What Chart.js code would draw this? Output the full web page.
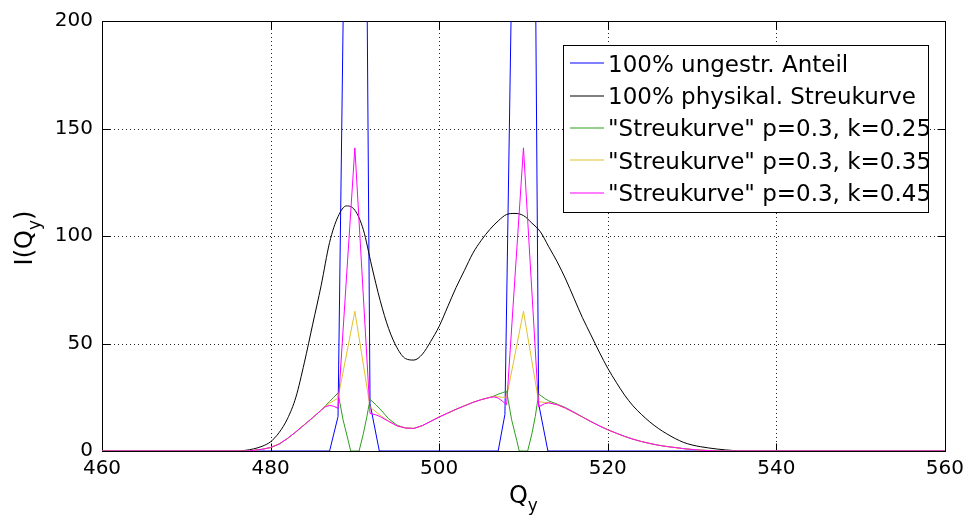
<!DOCTYPE html>
<html>
<head>
<meta charset="utf-8">
<script src="https://cdn.jsdelivr.net/npm/chart.js@4/dist/chart.umd.min.js"></script>
<style>
  html, body { margin: 0; padding: 0; background: #fff; }
  canvas { display: block; }
</style>
</head>
<body>
<canvas id="chart" width="970" height="521"></canvas>
<script>
// axis ticks
const xTicks = [460, 480, 500, 520, 540, 560];
const yTicks = [0, 50, 100, 150, 200];

// legend labels
const seriesNames = [
  "100% ungestr. Anteil",
  "100% physikal. Streukurve",
  "\"Streukurve\" p=0.3, k=0.25",
  "\"Streukurve\" p=0.3, k=0.35",
  "\"Streukurve\" p=0.3, k=0.45"
];

// 100% ungestr. Anteil (peaks go far above 200)
const qBlue = [460, 487, 488, 489, 490, 491, 491.8, 492.9, 507, 507.8, 509, 510, 511, 511.8, 512.9, 560];
const blueVals = [0, 0, 16, 320, 900, 450, 22, 0, 0, 17, 320, 900, 450, 22, 0, 0];

// 100% physikal. Streukurve
const qBlack = [460, 476, 477, 478, 479, 480, 481, 482, 483, 484, 485, 486, 487, 488, 489, 490,
  491, 492, 493, 494, 495, 496, 497, 498, 499, 500, 501, 502, 503, 504, 505, 506, 507, 508,
  509, 510, 511, 512, 513, 514, 515, 516, 517, 518, 519, 520, 521, 522, 523, 524, 525, 526,
  527, 528, 529, 530, 531, 532, 533, 534, 535, 536, 560];
const blackVals = [0, 0, 0.3, 1, 2.2, 4.3, 8.5, 15, 25, 41, 59, 77, 97, 109, 114, 112,
  103, 86, 70, 57, 48, 43, 42.3, 45, 51, 58, 67, 76, 84, 92, 98, 103, 107, 110,
  110.5, 109.5, 106, 102, 95, 88, 80, 71, 62, 54, 46, 38.5, 32, 26, 21, 17, 13.5, 10.5,
  8, 5.8, 4, 2.8, 2, 1.4, 0.9, 0.5, 0.2, 0, 0];

// common Q grid of the three "Streukurve" series (null = no sample there)
const qStreu = [
  460, 477, 477.5, 478, 479, 480, 481, 482, 483, 484, 485, 486, 486.5, 487, 487.5,
  488, 488.6, 489.2, 489.5, 490, 490.5, 491, 491.4, 491.8, 492.5, 493,
  494, 495, 496, 497, 498, 499, 500, 501, 502, 503, 504, 505, 506, 506.5, 507, 507.5,
  508, 508.6, 509.2, 509.5, 510, 510.5, 511, 511.4, 511.8, 512.5, 513,
  514, 515, 516, 517, 518, 519, 520, 521, 522, 523, 524, 525, 526, 527, 528, 529, 530, 531, 532, 533, 560
];
const k025 = [
  0, 0, 0.1, 0.3, 0.8, 1.6, 3.2, 5.8, 8.9, 12.2, 15.5, 19, 21, 23, 25,
  27, 14.5, 5, 0, 0, 0, 8, 15.5, 24, 21.5, 19.5,
  15, 12, 10.7, 10.5, 11.8, 13.8, 15.8, 17.6, 19.4, 21, 22.6, 23.9, 24.9, 25.6, 26.4, 27.1,
  27.8, 14.5, 5, 0, 0, 0, 8, 16, 26.5, 24.5, 23.3,
  21.8, 20.2, 18.1, 15.8, 13.7, 11.7, 9.9, 8.3, 6.8, 5.5, 4.4, 3.5, 2.7, 2.1, 1.6, 1.1, 0.7, 0.4, 0.2, 0, 0
];
const k035 = [
  0, 0, 0.1, 0.3, 0.8, 1.6, 3.2, 5.8, 8.9, 12.2, 15.5, 19, 20.8, 22.2, 23.4,
  24.6, null, null, null, 65, null, null, null, 20.5, 18.2, 16.6,
  13.9, 11.7, 10.7, 10.5, 11.8, 13.8, 15.8, 17.6, 19.4, 21, 22.6, 23.9, 24.9, 25.3, 25.2, 25,
  25, null, null, null, 65, null, null, null, 23, 22.6, 22.5,
  21.6, 19.9, 17.9, 15.8, 13.7, 11.7, 9.9, 8.3, 6.8, 5.5, 4.4, 3.5, 2.7, 2.1, 1.6, 1.1, 0.7, 0.4, 0.2, 0, 0
];
const k045 = [
  0, 0, 0.1, 0.3, 0.8, 1.6, 3.2, 5.8, 8.9, 12.2, 15.5, 19, 20.6, 21.2, 20.8,
  19.8, null, null, null, 141, null, null, null, 17.5, 16.8, 16,
  13.8, 11.7, 10.7, 10.5, 11.8, 13.8, 15.8, 17.6, 19.4, 21, 22.6, 23.9, 24.9, 25.2, 24.6, 23.2,
  21.5, null, null, null, 141, null, null, null, 20.5, 22, 22.4,
  21.5, 19.9, 17.9, 15.8, 13.7, 11.7, 9.9, 8.3, 6.8, 5.5, 4.4, 3.5, 2.7, 2.1, 1.6, 1.1, 0.7, 0.4, 0.2, 0, 0
];

const colors = ["#0000ff", "#000000", "#2e9e1e", "#e2c22a", "#ff00ff"];
const FONT = "DejaVu Sans";

const pts = (qs, vals) => qs.map((q, i) => ({ x: q, y: vals[i] }));

const series = [
  pts(qBlue, blueVals),
  pts(qBlack, blackVals),
  pts(qStreu, k025),
  pts(qStreu, k035),
  pts(qStreu, k045)
];

// grid, box, inward ticks, titles and legend drawn like the original figure
const figure = {
  id: "figure",
  beforeDatasetsDraw(chart) {
    const { ctx, chartArea: a, scales: { x, y } } = chart;
    ctx.save();
    ctx.lineWidth = 1;
    ctx.strokeStyle = "#222";
    ctx.setLineDash([1, 3]);
    ctx.beginPath();
    xTicks.slice(1, -1).forEach(v => {
      const px = Math.round(x.getPixelForValue(v)) + 0.5;
      ctx.moveTo(px, a.top);
      ctx.lineTo(px, a.bottom);
    });
    yTicks.slice(1, -1).forEach(v => {
      const py = Math.round(y.getPixelForValue(v)) + 0.5;
      ctx.moveTo(a.left, py);
      ctx.lineTo(a.right, py);
    });
    ctx.stroke();

    ctx.setLineDash([]);
    ctx.strokeStyle = "#000";
    const l = Math.round(a.left) + 0.5, r = Math.round(a.right) + 0.5;
    const t = Math.round(a.top) + 0.5, b = Math.round(a.bottom) + 0.5;
    ctx.strokeRect(l, t, r - l, b - t);
    ctx.beginPath();
    xTicks.forEach(v => {
      const px = Math.round(x.getPixelForValue(v)) + 0.5;
      ctx.moveTo(px, b); ctx.lineTo(px, b - 8);
      ctx.moveTo(px, t); ctx.lineTo(px, t + 8);
    });
    yTicks.forEach(v => {
      const py = Math.round(y.getPixelForValue(v)) + 0.5;
      ctx.moveTo(l, py); ctx.lineTo(l + 8, py);
      ctx.moveTo(r, py); ctx.lineTo(r - 8, py);
    });
    ctx.stroke();
    ctx.restore();
  },
  afterDraw(chart) {
    const { ctx, chartArea: a } = chart;
    ctx.save();
    ctx.fillStyle = "#000";
    ctx.textBaseline = "alphabetic";

    // x title: Q_y
    ctx.font = "24px '" + FONT + "'";
    const wQ = ctx.measureText("Q").width;
    ctx.font = "17px '" + FONT + "'";
    const wy = ctx.measureText("y").width;
    const cx = (a.left + a.right) / 2;
    const x0 = cx - (wQ + wy) / 2;
    ctx.font = "24px '" + FONT + "'";
    ctx.fillText("Q", x0, 503);
    ctx.font = "17px '" + FONT + "'";
    ctx.fillText("y", x0 + wQ, 511);

    // y title: I(Q_y), rotated
    ctx.save();
    ctx.translate(32, (a.top + a.bottom) / 2 + 2);
    ctx.rotate(-Math.PI / 2);
    ctx.font = "24px '" + FONT + "'";
    const w1 = ctx.measureText("I(Q").width;
    const w3 = ctx.measureText(")").width;
    ctx.font = "17px '" + FONT + "'";
    const w2 = ctx.measureText("y").width;
    let sx = -(w1 + w2 + w3) / 2;
    ctx.font = "24px '" + FONT + "'";
    ctx.fillText("I(Q", sx, 0);
    ctx.font = "17px '" + FONT + "'";
    ctx.fillText("y", sx + w1, 8);
    ctx.font = "24px '" + FONT + "'";
    ctx.fillText(")", sx + w1 + w2, 0);
    ctx.restore();

    // legend
    const bx = 563.5, by = 45.5, bw = 365, bh = 167;
    ctx.fillStyle = "#fff";
    ctx.fillRect(bx, by, bw, bh);
    ctx.strokeStyle = "#000";
    ctx.lineWidth = 1;
    ctx.strokeRect(bx, by, bw, bh);
    ctx.font = "23px '" + FONT + "'";
    seriesNames.forEach((name, i) => {
      const ry = 63.3 + i * 32.35;
      ctx.beginPath();
      ctx.strokeStyle = colors[i];
      ctx.lineWidth = 1.2;
      ctx.moveTo(570, Math.round(ry));
      ctx.lineTo(604, Math.round(ry));
      ctx.stroke();
      ctx.fillStyle = "#000";
      ctx.fillText(name, 608, ry + 8.4);
    });
    ctx.restore();
  }
};

new Chart(document.getElementById("chart"), {
  type: "line",
  data: {
    datasets: series.map((data, i) => ({
      label: seriesNames[i],
      data: data,
      borderColor: colors[i],
      backgroundColor: colors[i],
      borderWidth: 1,
      pointRadius: 0,
      tension: 0,
      cubicInterpolationMode: i === 1 ? "monotone" : "default",
      spanGaps: true,
      fill: false,
      order: series.length - i
    }))
  },
  options: {
    responsive: false,
    animation: false,
    events: [],
    layout: { padding: { left: 0, right: 24, top: 21, bottom: 0 } },
    plugins: {
      legend: { display: false },
      tooltip: { enabled: false }
    },
    scales: {
      x: {
        type: "linear",
        min: 460,
        max: 560,
        grid: { display: false, drawTicks: false },
        border: { display: false },
        ticks: {
          stepSize: 20,
          maxRotation: 0,
          padding: 6,
          color: "#000",
          font: { family: FONT, size: 20 }
        },
        afterFit: s => { s.height = 70; }
      },
      y: {
        type: "linear",
        min: 0,
        max: 200,
        grid: { display: false, drawTicks: false },
        border: { display: false },
        ticks: {
          stepSize: 50,
          padding: 9,
          color: "#000",
          font: { family: FONT, size: 20 }
        },
        afterFit: s => { s.width = 102; }
      }
    }
  },
  plugins: [figure]
});
</script>
</body>
</html>
